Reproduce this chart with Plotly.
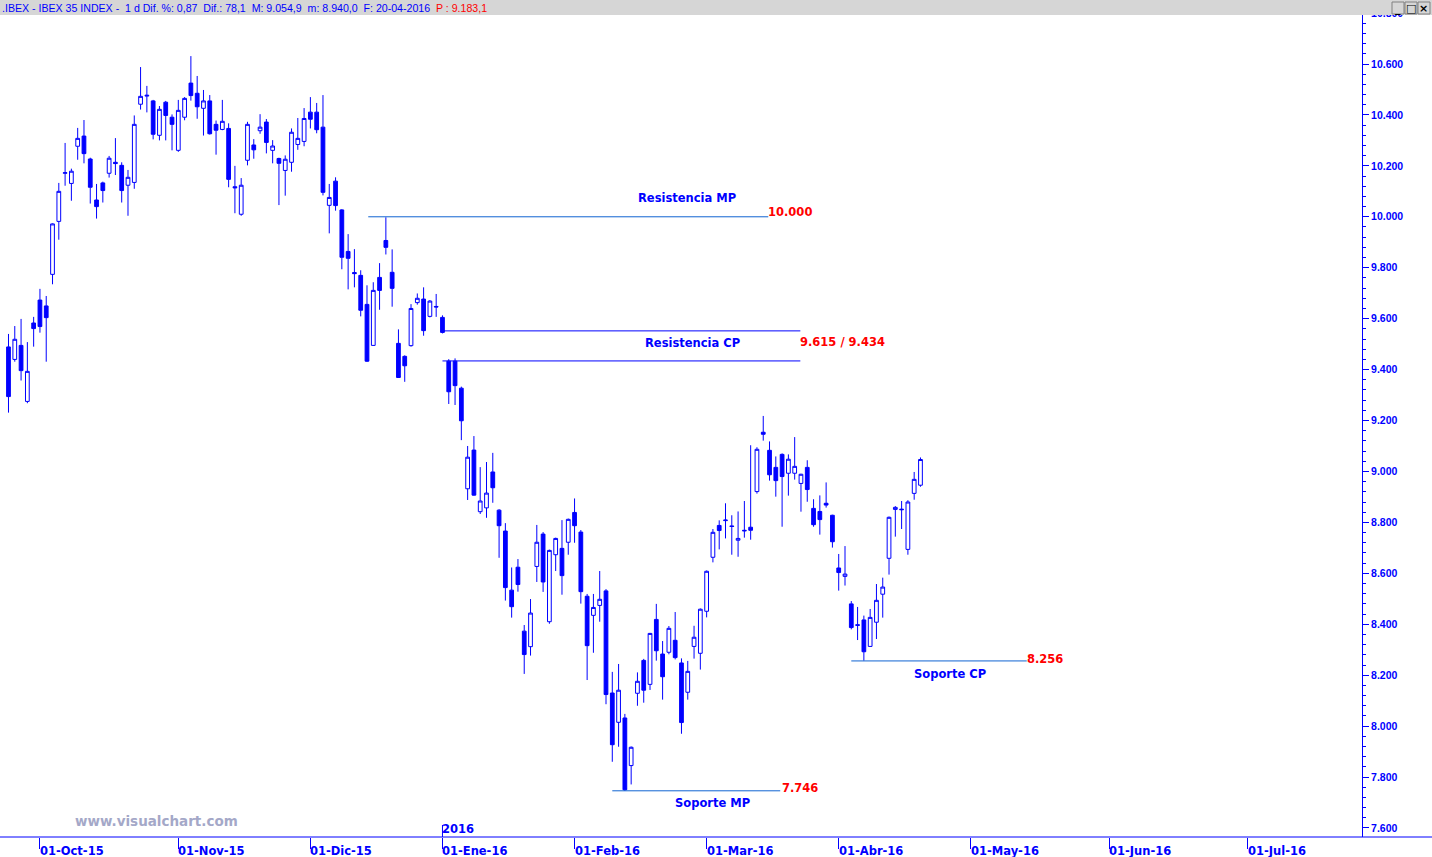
import pandas as pd
import plotly.graph_objects as go

# ---------------- data ----------------
holidays = ["2015-12-25", "2016-01-01", "2016-03-25", "2016-03-28"]
dates = [d for d in pd.bdate_range("2015-09-24", "2016-04-20")
         if d.strftime("%Y-%m-%d") not in holidays]
future_dates = list(pd.bdate_range("2016-04-21", "2016-07-29"))

open_ = [9489, 9440, 9495, 9275, 9583, 9673, 9650, 9774, 9982, 10171,
         10131, 10277, 10317, 10227, 10066, 10133, 10171, 10214, 10202, 10124,
         10135, 10442, 10474, 10455, 10320, 10450, 10391, 10261, 10391, 10525,
         10485, 10426, 10455, 10363, 10343, 10347, 10118, 10010, 10222, 10282,
         10338, 10372, 10261, 10229, 10182, 10214, 10284, 10296, 10411, 10411,
         10352, 10045, 10140, 10027, 9864, 9781, 9770, 9656, 9495, 9762,
         9907, 9782, 9503, 9452, 9494, 9663, 9677, 9609, 9648, 9605,
         9433, 9433, 9327, 8932, 9084, 8842, 8857, 8998, 8848, 8766,
         8534, 8624, 8373, 8312, 8627, 8754, 8410, 8673, 8698, 8722,
         8839, 8762, 8510, 8435, 8474, 8531, 8130, 8015, 8032, 7845,
         8129, 8258, 8164, 8419, 8283, 8290, 8337, 8248, 8133, 8313,
         8286, 8451, 8663, 8788, 8807, 8786, 8730, 8769, 8781, 8921,
         9154, 9083, 9016, 9067, 8993, 8993, 8953, 9016, 8855, 8843,
         8875, 8828, 8621, 8588, 8480, 8398, 8417, 8313, 8408, 8518,
         8659, 8851, 8852, 8694, 8914, 8946]
high = [9540, 9571, 9599, 9508, 9607, 9717, 9689, 9974, 10133, 10290,
        10189, 10349, 10380, 10232, 10129, 10138, 10239, 10309, 10214, 10184,
        10398, 10588, 10514, 10459, 10435, 10455, 10402, 10459, 10470, 10631,
        10553, 10498, 10478, 10378, 10459, 10367, 10200, 10152, 10373, 10305,
        10403, 10384, 10301, 10232, 10241, 10347, 10388, 10427, 10470, 10447,
        10478, 10129, 10155, 10030, 9932, 9873, 9790, 9731, 9743, 9818,
        9998, 9872, 9558, 9456, 9657, 9699, 9723, 9673, 9697, 9613,
        9441, 9444, 9333, 9100, 9139, 9017, 9037, 9073, 8852, 8797,
        8623, 8656, 8397, 8499, 8790, 8762, 8693, 8740, 8809, 8815,
        8894, 8770, 8519, 8519, 8609, 8538, 8213, 8244, 8048, 7920,
        8211, 8264, 8366, 8480, 8334, 8393, 8448, 8266, 8256, 8394,
        8462, 8611, 8774, 8808, 8875, 8828, 8843, 8884, 9103, 9095,
        9218, 9118, 9059, 9071, 9067, 9135, 8991, 9044, 8891, 8906,
        8957, 8830, 8676, 8707, 8491, 8468, 8434, 8460, 8558, 8583,
        8823, 8864, 8884, 8887, 8998, 9055]
low = [9231, 9431, 9357, 9268, 9490, 9545, 9431, 9735, 9910, 10122,
       10063, 10224, 10210, 10052, 9993, 10056, 10154, 10164, 10056, 10004,
       10110, 10421, 10410, 10304, 10300, 10300, 10261, 10255, 10379, 10456,
       10385, 10319, 10323, 10244, 10340, 10116, 10014, 10004, 10202, 10228,
       10326, 10249, 10210, 10046, 10083, 10177, 10263, 10277, 10347, 10328,
       10084, 9935, 10024, 9794, 9715, 9723, 9609, 9430, 9493, 9635,
       9852, 9647, 9367, 9352, 9490, 9655, 9533, 9605, 9607, 9542,
       9265, 9261, 9123, 8888, 8905, 8833, 8818, 8877, 8661, 8493,
       8426, 8528, 8205, 8277, 8566, 8527, 8402, 8609, 8516, 8673,
       8720, 8481, 8181, 8288, 8410, 8086, 7860, 7919, 7746, 7771,
       8080, 8092, 8142, 8257, 8104, 8282, 8262, 7970, 8104, 8265,
       8222, 8427, 8643, 8694, 8737, 8673, 8665, 8740, 8732, 8913,
       9121, 8964, 8901, 8783, 8905, 8968, 8842, 8881, 8783, 8752,
       8858, 8701, 8532, 8552, 8380, 8338, 8257, 8311, 8342, 8426,
       8595, 8744, 8774, 8673, 8889, 8940]
close = [9294, 9519, 9396, 9393, 9561, 9569, 9604, 9972, 10100, 10173,
         10179, 10308, 10248, 10116, 10040, 10103, 10230, 10209, 10103, 10155,
         10363, 10473, 10477, 10324, 10422, 10398, 10363, 10418, 10465, 10476,
         10432, 10455, 10326, 10340, 10375, 10147, 10114, 10124, 10363, 10263,
         10352, 10292, 10278, 10210, 10226, 10332, 10308, 10386, 10383, 10342,
         10096, 10076, 10044, 9841, 9837, 9777, 9633, 9433, 9711, 9711,
         9880, 9719, 9369, 9415, 9640, 9680, 9553, 9669, 9646, 9546,
         9313, 9337, 9199, 9056, 8907, 8884, 8915, 8936, 8787, 8544,
         8469, 8556, 8281, 8444, 8722, 8566, 8690, 8737, 8591, 8812,
         8787, 8528, 8316, 8466, 8498, 8124, 7927, 8141, 7750, 7917,
         8176, 8141, 8364, 8296, 8194, 8384, 8269, 8014, 8215, 8349,
         8459, 8608, 8761, 8768, 8809, 8784, 8737, 8767, 8769, 9087,
         9146, 8987, 8964, 8980, 9048, 9020, 8989, 8929, 8791, 8811,
         8868, 8724, 8603, 8597, 8387, 8396, 8292, 8427, 8494, 8546,
         8820, 8859, 8850, 8880, 8969, 9047]

# month ticks
tick_months = ["2015-10-01", "2015-11-01", "2015-12-01", "2016-01-01", "2016-02-01",
               "2016-03-01", "2016-04-01", "2016-05-01", "2016-06-01", "2016-07-01"]
tick_labels = ["01-Oct-15", "01-Nov-15", "01-Dic-15", "01-Ene-16", "01-Feb-16",
               "01-Mar-16", "01-Abr-16", "01-May-16", "01-Jun-16", "01-Jul-16"]
year_label = "2016"

# support / resistance levels: (level, start bar, end bar)
res_mp = (10000, 57.2, 120.8)
res_cp = ([9552, 9434], 69.0, 125.9)
sop_cp = (8256, 134.0, 161.9)
sop_mp = (7746, 96.0, 122.7)

header = (".IBEX - IBEX 35 INDEX -  1 d Dif. %: 0,87  Dif.: 78,1  M: 9.054,9  "
          "m: 8.940,0  F: 20-04-2016  ")
header_p = "P : 9.183,1"

# ---------------- figure ----------------
BLUE = "#0000ff"
RED = "#ff0000"
LBLUE = "#1064d2"
W, H = 1432, 857
PW, PH = 1362, 837

axis_dates = [pd.Timestamp(d) for d in dates] + future_dates
x = list(range(len(dates)))
# a month tick sits on the first bar of the month; when the 1st itself is a
# weekday holiday the tick is drawn one slot earlier (where that day would be)
tick_pos = [sum(1 for d in axis_dates if d < pd.Timestamp(m)) - (1 if m in holidays else 0)
            for m in tick_months]

fig = go.Figure()
fig.add_trace(go.Candlestick(
    x=x, open=open_, high=high, low=low, close=close,
    increasing=dict(line=dict(color=BLUE, width=1), fillcolor="#ffffff"),
    decreasing=dict(line=dict(color=BLUE, width=1), fillcolor=BLUE),
    whiskerwidth=0,
    text=[d.strftime("%d-%m-%Y") for d in dates],
    hoverinfo="text+y",
    showlegend=False,
))

shapes = []
annotations = []

def hline(level, x0, x1, color):
    shapes.append(dict(type="line", xref="x", yref="y", x0=x0, x1=x1, y0=level, y1=level,
                       line=dict(color=color, width=1), layer="above"))

hline(res_mp[0], res_mp[1], res_mp[2], LBLUE)
for lv in res_cp[0]:
    hline(lv, res_cp[1], res_cp[2], BLUE)
hline(sop_cp[0], sop_cp[1], sop_cp[2], LBLUE)
hline(sop_mp[0], sop_mp[1], sop_mp[2], LBLUE)

LFONT = dict(family="DejaVu Sans", size=11.5, color=BLUE)
RFONT = dict(family="DejaVu Sans", size=11.5, color=RED)

def label(text, xv, yv, font, xanchor="center", yshift=0, xshift=0):
    annotations.append(dict(text="<b>%s</b>" % text, x=xv, y=yv, xref="x", yref="y",
                            showarrow=False, font=font, xanchor=xanchor, yanchor="middle",
                            yshift=yshift, xshift=xshift))

label("Resistencia MP", 107.9, res_mp[0], LFONT, yshift=19)
label("10.000", res_mp[2], res_mp[0], RFONT, xanchor="left", yshift=5, xshift=-2)
label("Resistencia CP", 108.7, res_cp[0][1], LFONT, yshift=18)
label("9.615 / 9.434", res_cp[2], res_cp[0][1], RFONT, xanchor="left", yshift=19, xshift=-2)
label("Soporte CP", 149.7, sop_cp[0], LFONT, yshift=-13)
label("8.256", sop_cp[2], sop_cp[0], RFONT, xanchor="left", yshift=2, xshift=-2)
label("Soporte MP", 111.9, sop_mp[0], LFONT, yshift=-12)
label("7.746", sop_mp[2], sop_mp[0], RFONT, xanchor="left", yshift=3)

# x axis line extended under the price scale
shapes.append(dict(type="line", xref="paper", yref="paper", x0=0, x1=W / PW, y0=0, y1=0,
                   line=dict(color=BLUE, width=1)))
# month labels
for tp, tl in zip(tick_pos, tick_labels):
    annotations.append(dict(text="<b>%s</b>" % tl, x=tp, y=0, xref="x", yref="paper",
                            showarrow=False, xanchor="left", yanchor="middle", xshift=-2,
                            yshift=-14, font=dict(family="DejaVu Sans", size=11.5, color=BLUE)))
# year marker
jan_pos = tick_pos[tick_labels.index("01-Ene-16")]
shapes.append(dict(type="line", xref="x", yref="paper", x0=jan_pos, x1=jan_pos,
                   y0=0, y1=12 / PH, line=dict(color=BLUE, width=1)))
annotations.append(dict(text="<b>%s</b>" % year_label, x=jan_pos, y=0, xref="x", yref="paper",
                        showarrow=False, xanchor="left", yanchor="bottom", xshift=-2, yshift=-1,
                        font=dict(family="DejaVu Sans", size=11.5, color=BLUE)))

# watermark
annotations.append(dict(text="<b>www.visualchart.com</b>", x=76 / PW, y=(PH - 821) / PH,
                        xref="paper", yref="paper", showarrow=False, xanchor="left",
                        xshift=-3, yanchor="middle",
                        font=dict(family="DejaVu Sans", size=13.5, color="#a4a8c8")))

# header bar
shapes.append(dict(type="rect", xref="paper", yref="paper", x0=0, x1=W / PW,
                   y0=1 - 15 / PH, y1=1, fillcolor="#d6d6d6", line=dict(width=0),
                   layer="above"))
annotations.append(dict(text=header + '<span style="color:%s">%s</span>' % (RED, header_p),
                        x=0, y=1 - 7.5 / PH, xref="paper", yref="paper",
                        showarrow=False, xanchor="left", yanchor="middle",
                        font=dict(family="Liberation Sans", size=10.6, color=BLUE)))
# window buttons
for i, g in enumerate(["_", "□", "×"]):
    x0 = 1392 + 13 * i
    shapes.append(dict(type="rect", xref="paper", yref="paper", x0=x0 / PW, x1=(x0 + 12) / PW,
                       y0=1 - 14 / PH, y1=1 - 2 / PH, fillcolor="#d6d6d6",
                       line=dict(color="#808080", width=1), layer="above"))
    annotations.append(dict(text="<b>%s</b>" % g, x=(x0 + 6) / PW, y=1 - 8 / PH,
                            xref="paper", yref="paper", showarrow=False,
                            xanchor="center", yanchor="middle",
                            font=dict(family="DejaVu Sans", size=11, color="#000000")))

fig.update_layout(
    width=W, height=H,
    margin=dict(l=0, r=W - PW, t=0, b=H - PH, pad=0),
    paper_bgcolor="#ffffff", plot_bgcolor="#ffffff",
    separators=",.",
    boxgap=0.15,
    showlegend=False,
    shapes=shapes, annotations=annotations,
    xaxis=dict(range=[-1.35, 215.2], showgrid=False, zeroline=False, showline=False,
               tickvals=tick_pos, ticks="outside", ticklen=11, tickcolor=BLUE, tickwidth=1,
               showticklabels=False, rangeslider=dict(visible=False), fixedrange=True),
    yaxis=dict(range=[7564.6, 10851.3], side="right", showgrid=False, zeroline=False,
               showline=True, linecolor=BLUE, linewidth=1, ticks="outside", ticklen=6,
               tickcolor=BLUE, tickwidth=1, tick0=0, dtick=200, tickformat=",d",
               tickfont=dict(family="Liberation Sans", size=10.5, color=BLUE, weight="bold"),
               minor=dict(dtick=40, tick0=0, ticks="outside", ticklen=3, tickcolor=BLUE,
                          showgrid=False),
               fixedrange=True),
)

fig.write_html("out.html", config={"displayModeBar": False},
               post_script="document.body.style.margin='0';document.body.style.overflow='hidden';")
